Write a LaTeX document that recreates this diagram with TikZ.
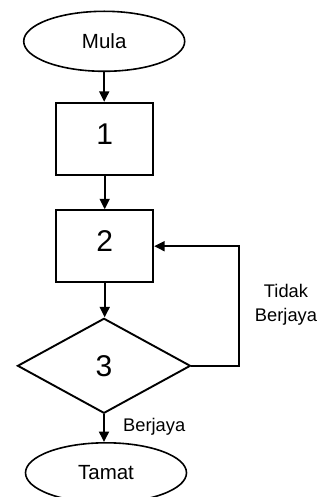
\documentclass[tikz,border=0pt]{standalone}
\usepackage{fontspec}
\setmainfont{Liberation Sans}
\usetikzlibrary{shapes.geometric,arrows.meta}

\tikzset{
  flow/.style={line width=1.9pt, -{Triangle[length=10.5pt,width=10pt]}},
  terminal/.style={ellipse, draw, line width=1.6pt, inner sep=0pt,
    minimum width=161pt, minimum height=60pt, font=\fontsize{20.5pt}{24pt}\selectfont},
  stepbox/.style={rectangle, draw, line width=1.9pt, inner sep=0pt,
    minimum width=97pt, minimum height=72pt, text depth=10pt,
    font=\fontsize{30pt}{34pt}\selectfont},
  decision/.style={diamond, draw, line width=1.9pt, inner sep=0pt,
    minimum width=173pt, minimum height=95pt, font=\fontsize{30pt}{34pt}\selectfont},
  branchlabel/.style={inner sep=0pt, font=\fontsize{18.3pt}{24pt}\selectfont}
}

\begin{document}
\begin{tikzpicture}[x=1pt,y=-1pt]
  \clip (0,0) rectangle (325,497);

  % flowchart blocks
  \node[terminal] (mula)  at (104.2,41.3)  {Mula};
  \node[stepbox]  (s1)    at (104.7,138.8) {1};
  \node[stepbox]  (s2)    at (104.7,246.2) {2};
  \node[decision] (d3)    at (104.0,365.8) {3};
  \node[terminal] (tamat) at (106.0,472.8) {Tamat};

  % main flow
  \draw[flow] (mula.south) -- (mula.south |- s1.north);
  \draw[flow] (s1.south) -- (s2.north);
  \draw[flow] (s2.south) -- (s2.south |- d3.north);
  \draw[flow] (d3.south) -- (d3.south |- tamat.north);

  % loop back when not successful
  \coordinate (loopcorner) at (239.3,365.8);
  \draw[flow] (d3.east) -- (loopcorner) |- (s2.east);

  % branch labels
  \node[branchlabel, align=center] (tidak) at (286,305) {Tidak\\Berjaya};
  \node[branchlabel, anchor=base west] (berjaya) at (123,431) {Berjaya};
\end{tikzpicture}
\end{document}
